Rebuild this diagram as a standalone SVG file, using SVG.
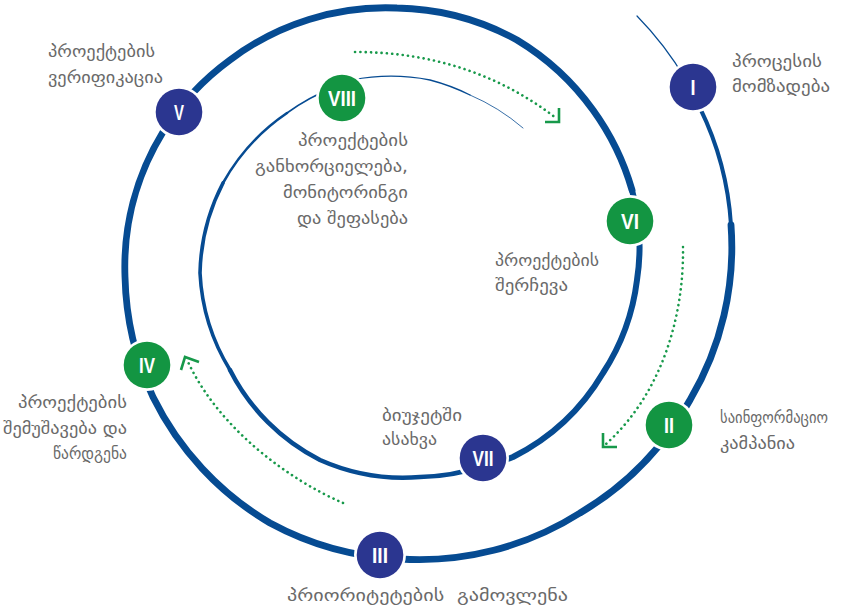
<svg xmlns="http://www.w3.org/2000/svg" width="859" height="608" viewBox="0 0 859 608">
<style>
.sp{fill:none;stroke:#064b92;stroke-linecap:round}
.dot{fill:none;stroke:#17994a;stroke-width:2.6;stroke-linecap:round;stroke-dasharray:0.1 5.2}
.ah{fill:none;stroke:#17994a;stroke-width:2.6;stroke-linecap:butt;stroke-linejoin:miter}
.ring{fill:#fff}
.blue{fill:#2b3690}
.green{fill:#139542}
.num{fill:#fff;font-family:"Liberation Sans",Arial,sans-serif;font-weight:bold;font-size:22px;text-anchor:middle}
.lbl{fill:#6a6a6a;font-family:"DejaVu Sans","Noto Sans",sans-serif;font-size:17px}
.end{text-anchor:end}
</style>
<g id="connectors">
<path class="sp" stroke-width="1.2" d="M637,16 A330,330 0 0 1 686,80"/>
<path class="sp" stroke-width="4" d="M700,108 A310,310 0 0 1 731,225"/>
<path class="sp" stroke-width="6.8" d="M731,225 A300,300 0 0 1 690,400 A300,300 0 0 1 580,513 A300,300 0 0 1 400,559 A300,300 0 0 1 270,523 A300,300 0 0 1 153,397 A300,300 0 0 1 125,277 A258,258 0 0 1 163,132 A258,258 0 0 1 230,60 A258,258 0 0 1 397,8 A258,258 0 0 1 517,40 A258,258 0 0 1 593,110 A258,258 0 0 1 632,190"/>
<path class="sp" stroke-width="6" d="M632,190 A219,219 0 0 1 637,280 A219,219 0 0 1 603,373 A219,219 0 0 1 513,457 A219,219 0 0 1 483,466"/>
<path class="sp" stroke-width="4.5" d="M483,466 A205,205 0 0 1 420,477 A205,205 0 0 1 320,460 A205,205 0 0 1 230,370"/>
<path class="sp" stroke-width="3.6" d="M230,370 A205,205 0 0 1 200,273 A205,205 0 0 1 223,183"/>
<path class="sp" stroke-width="2.6" d="M223,183 A205,205 0 0 1 287,113"/>
<path class="sp" stroke-width="1.6" d="M287,113 A205,205 0 0 1 335,87"/>
<path class="sp" stroke-width="1.3" d="M352,80 A205,205 0 0 1 430,80 A205,205 0 0 1 470,95"/>
<path class="sp" stroke-width="0.8" d="M470,95 A205,205 0 0 1 523,128"/>
<path class="dot" d="M355,52 Q470,52 556,118"/>
<path class="ah" d="M559,108 L559,122 L545,122"/>
<path class="dot" d="M683,247 C684,320 660,395 606,444"/>
<path class="ah" d="M603,433 L603,447 L617,447"/>
<path class="dot" d="M343,503 C290,480 220,430 188,362"/>
<path class="ah" d="M199,362 L185,357 L181,370"/>
</g>
<g id="node-I"><circle class="ring" cx="693" cy="87" r="26"/><circle class="blue" cx="693" cy="87" r="23.3"/><text class="num" x="693" y="95" textLength="5" lengthAdjust="spacingAndGlyphs">I</text>
<text class="lbl" x="732" y="67" textLength="90" lengthAdjust="spacingAndGlyphs">პროცესის</text><text class="lbl" x="732" y="92" textLength="98" lengthAdjust="spacingAndGlyphs">მომზადება</text></g>
<g id="node-II"><circle class="ring" cx="669" cy="425" r="26"/><circle class="green" cx="669" cy="425" r="23.3"/><text class="num" x="669" y="433" textLength="10" lengthAdjust="spacingAndGlyphs">II</text>
<text class="lbl" x="720" y="423" textLength="108" lengthAdjust="spacingAndGlyphs">საინფორმაციო</text><text class="lbl" x="720" y="449" textLength="75" lengthAdjust="spacingAndGlyphs">კამპანია</text></g>
<g id="node-III"><circle class="ring" cx="380" cy="555" r="26"/><circle class="blue" cx="380" cy="555" r="23.3"/><text class="num" x="380" y="563" textLength="16" lengthAdjust="spacingAndGlyphs">III</text>
<text class="lbl" x="287" y="601" xml:space="preserve" textLength="281" lengthAdjust="spacingAndGlyphs">პრიორიტეტების  გამოვლენა</text></g>
<g id="node-IV"><circle class="ring" cx="147" cy="365" r="26"/><circle class="green" cx="147" cy="365" r="23.3"/><text class="num" x="147" y="373" textLength="16" lengthAdjust="spacingAndGlyphs">IV</text>
<text class="lbl end" x="127" y="408" textLength="109" lengthAdjust="spacingAndGlyphs">პროექტების</text><text class="lbl end" x="127" y="434" textLength="124" lengthAdjust="spacingAndGlyphs">შემუშავება და</text><text class="lbl end" x="127" y="459" textLength="74" lengthAdjust="spacingAndGlyphs">წარდგენა</text></g>
<g id="node-V"><circle class="ring" cx="179" cy="112" r="26"/><circle class="blue" cx="179" cy="112" r="23.3"/><text class="num" x="179" y="120" textLength="10" lengthAdjust="spacingAndGlyphs">V</text>
<text class="lbl" x="48" y="57" textLength="107" lengthAdjust="spacingAndGlyphs">პროექტების</text><text class="lbl" x="48" y="83" textLength="115" lengthAdjust="spacingAndGlyphs">ვერიფიკაცია</text></g>
<g id="node-VI"><circle class="ring" cx="630" cy="221" r="26"/><circle class="green" cx="630" cy="221" r="23.3"/><text class="num" x="630" y="229" textLength="18" lengthAdjust="spacingAndGlyphs">VI</text>
<text class="lbl" x="495" y="266" textLength="104" lengthAdjust="spacingAndGlyphs">პროექტების</text><text class="lbl" x="495" y="291" textLength="73" lengthAdjust="spacingAndGlyphs">შერჩევა</text></g>
<g id="node-VII"><circle class="ring" cx="483" cy="458" r="26"/><circle class="blue" cx="483" cy="458" r="23.3"/><text class="num" x="483" y="466" textLength="21" lengthAdjust="spacingAndGlyphs">VII</text>
<text class="lbl" x="382" y="421" textLength="80" lengthAdjust="spacingAndGlyphs">ბიუჯეტში</text><text class="lbl" x="382" y="445" textLength="55" lengthAdjust="spacingAndGlyphs">ასახვა</text></g>
<g id="node-VIII"><circle class="ring" cx="342" cy="98" r="26"/><circle class="green" cx="342" cy="98" r="23.3"/><text class="num" x="342" y="106" textLength="28" lengthAdjust="spacingAndGlyphs">VIII</text>
<text class="lbl end" x="408" y="146" textLength="110" lengthAdjust="spacingAndGlyphs">პროექტების</text><text class="lbl end" x="408" y="172" textLength="153" lengthAdjust="spacingAndGlyphs">განხორციელება,</text><text class="lbl end" x="408" y="198" textLength="125" lengthAdjust="spacingAndGlyphs">მონიტორინგი</text><text class="lbl end" x="408" y="224" textLength="111" lengthAdjust="spacingAndGlyphs">და შეფასება</text></g>
</svg>
